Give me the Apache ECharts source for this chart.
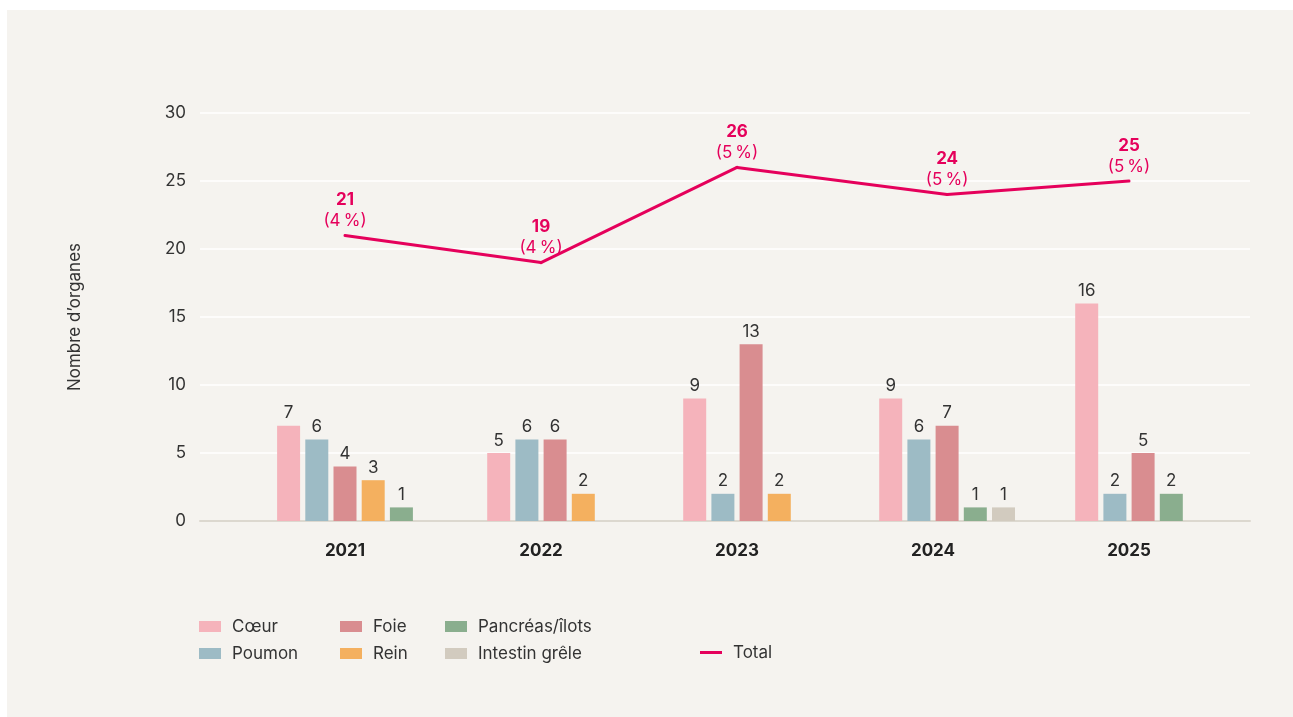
<!DOCTYPE html>
<html>
<head>
<meta charset="utf-8">
<script src="https://cdn.jsdelivr.net/npm/echarts@6/dist/echarts.min.js"></script>
<style>
  html, body { margin: 0; padding: 0; background: #ffffff; }
  #chart { position: absolute; left: 7px; top: 10px; width: 1286px; height: 707px; }
</style>
</head>
<body>
<div id="chart"></div>
<script>
  // data
  const years = ['2021', '2022', '2023', '2024', '2025'];
  const coeur = [7, 5, 9, 9, 16];
  const poumon = [6, 6, 2, 6, 2];
  const foie = [4, 6, 13, 7, 5];
  const rein = [3, 2, 2, 0, 0];
  const pancreas = [1, 0, 0, 1, 2];
  const intestin = [0, 0, 0, 1, 0];
  const total = [21, 19, 26, 24, 25];
  const totalPct = ['4', '4', '5', '5', '5'];
  const yMin = 0, yMax = 30, yStep = 5;

  const FONT = 'Inter, "Noto Sans", sans-serif';
  const FS = 17;
  const TEXT = '#333333';
  const PINK = '#e5005b';

  const organs = [
    { name: 'Cœur', values: coeur, color: '#f5b3bb' },
    { name: 'Poumon', values: poumon, color: '#9dbbc5' },
    { name: 'Foie', values: foie, color: '#d98d90' },
    { name: 'Rein', values: rein, color: '#f4b05f' },
    { name: 'Pancréas/îlots', values: pancreas, color: '#8aae8e' },
    { name: 'Intestin grêle', values: intestin, color: '#d2cbbf' }
  ];
  // intestin grêle gets appended after the group, the group itself is centred on the others
  const centredCount = 5;

  const barW = 23;
  const pitch = 28.2;

  // which bars exist in each year
  function slotsFor(cat) {
    const all = [], centred = [];
    organs.forEach((o, s) => {
      if (o.values[cat]) {
        all.push(s);
        if (s < centredCount) centred.push(s);
      }
    });
    return { all, centred };
  }
  function barOffset(s, cat) {
    const sl = slotsFor(cat);
    const k = sl.all.indexOf(s);
    return (k - (sl.centred.length - 1) / 2) * pitch;
  }
  function groupCentre(cat) {
    const sl = slotsFor(cat);
    return ((sl.all.length - 1) / 2 - (sl.centred.length - 1) / 2) * pitch;
  }

  const barSeries = organs.map((o, s) => ({
    name: o.name,
    type: 'custom',
    xAxisIndex: 1,
    yAxisIndex: 1,
    itemStyle: { color: o.color },
    data: o.values.map((v, i) => [i, v]),
    renderItem: function (params, api) {
      const cat = api.value(0);
      const v = api.value(1);
      if (!v) return null;
      const base = api.coord([cat, 0]);
      const top = api.coord([cat, v]);
      const cx = base[0] + barOffset(s, cat);
      return {
        type: 'group',
        children: [
          {
            type: 'rect',
            shape: { x: cx - barW / 2, y: top[1], width: barW, height: base[1] - top[1] },
            style: { fill: o.color }
          },
          {
            type: 'text',
            style: {
              text: String(v), x: cx, y: top[1] - 4,
              align: 'center', verticalAlign: 'bottom',
              fill: TEXT, fontSize: FS, fontFamily: FONT
            }
          }
        ]
      };
    }
  }));

  const totalSeries = {
    name: 'Total',
    type: 'custom',
    xAxisIndex: 1,
    yAxisIndex: 1,
    z: 5,
    itemStyle: { color: PINK },
    data: total.map((v, i) => [i, v]),
    renderItem: function (params, api) {
      const cat = api.value(0);
      const p = api.coord([cat, api.value(1)]);
      p[0] += groupCentre(cat);
      const children = [];
      if (cat < total.length - 1) {
        const q = api.coord([cat + 1, total[cat + 1]]);
        q[0] += groupCentre(cat + 1);
        children.push({
          type: 'line',
          shape: { x1: p[0], y1: p[1], x2: q[0], y2: q[1] },
          style: { stroke: PINK, lineWidth: 3, lineCap: 'round' }
        });
      }
      children.push({
        type: 'text',
        z2: 10,
        style: {
          text: '{v|' + total[cat] + '}\n{p|(' + totalPct[cat] + '\u2009%)}',
          x: p[0], y: p[1] - 4,
          align: 'center', verticalAlign: 'bottom',
          rich: {
            v: { fontSize: FS, fontWeight: 'bold', fill: PINK, fontFamily: FONT, lineHeight: 21, align: 'center' },
            p: { fontSize: FS, fill: PINK, fontFamily: FONT, lineHeight: 21, align: 'center' }
          }
        }
      });
      return { type: 'group', children };
    }
  };

  const legendBase = {
    orient: 'vertical',
    top: 608,
    padding: 0,
    itemGap: 10,
    itemWidth: 22,
    itemHeight: 11,
    icon: 'rect',
    selectedMode: false,
    textStyle: { fontSize: FS, color: TEXT, fontFamily: FONT, padding: [0, 0, 0, 6] }
  };

  const chart = echarts.init(document.getElementById('chart'));
  chart.setOption({
    backgroundColor: '#f5f3ef',
    animation: false,
    textStyle: { fontFamily: FONT },
    grid: [
      { left: 193, right: 43, top: 103, bottom: 196 },
      { left: 240, right: 66, top: 103, bottom: 196 }
    ],
    xAxis: [
      {
        type: 'value', gridIndex: 0, min: 0, max: 1,
        axisLine: { show: true, lineStyle: { color: '#dcd8cf', width: 2 } },
        axisTick: { show: false }, axisLabel: { show: false }, splitLine: { show: false }
      },
      {
        type: 'category', gridIndex: 1, data: years,
        axisLine: { show: false }, axisTick: { show: false },
        axisLabel: { fontSize: FS, fontWeight: 'bold', color: '#222222', margin: 21, fontFamily: FONT }
      }
    ],
    yAxis: [
      {
        type: 'value', gridIndex: 0, min: yMin, max: yMax, interval: yStep,
        name: 'Nombre d’organes', nameLocation: 'middle', nameRotate: 90, nameGap: 117,
        nameTextStyle: { fontSize: FS, color: TEXT, fontFamily: FONT },
        axisLine: { show: false }, axisTick: { show: false },
        axisLabel: { fontSize: FS, color: TEXT, margin: 14, fontFamily: FONT },
        splitLine: { lineStyle: { color: '#ffffff', width: 1.5 } }
      },
      { type: 'value', gridIndex: 1, min: yMin, max: yMax, interval: yStep, show: false }
    ],
    legend: [
      Object.assign({}, legendBase, { left: 192, data: ['Cœur', 'Poumon'] }),
      Object.assign({}, legendBase, { left: 333, data: ['Foie', 'Rein'] }),
      Object.assign({}, legendBase, { left: 438, data: ['Pancréas/îlots', 'Intestin grêle'] }),
      Object.assign({}, legendBase, { left: 693, top: 634, itemHeight: 3, data: ['Total'] })
    ],
    series: barSeries.concat([totalSeries])
  });
</script>
</body>
</html>
